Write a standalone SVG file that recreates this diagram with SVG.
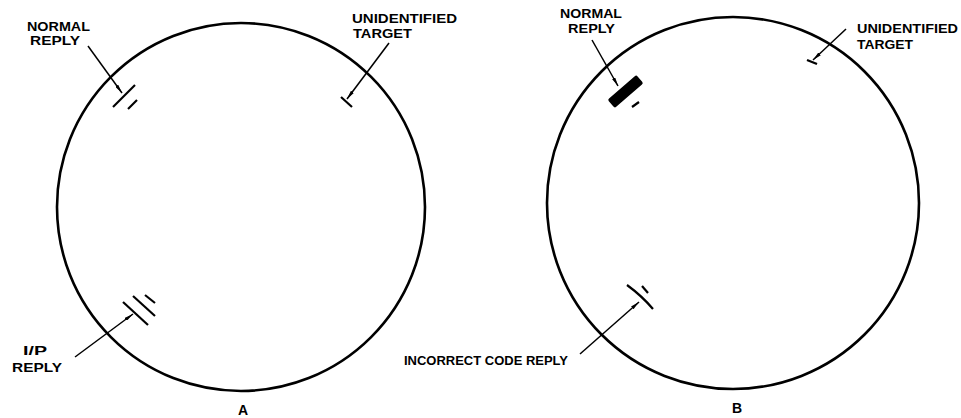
<svg xmlns="http://www.w3.org/2000/svg" width="961" height="418" viewBox="0 0 961 418">
<style>
.scope{fill:none;stroke:#000;stroke-width:2.6}
.lead{fill:none;stroke:#000;stroke-width:1.5}
.mark{fill:none;stroke:#000;stroke-width:2.2;stroke-linecap:butt}
.lbl{font-family:"Liberation Sans",Arial,sans-serif;font-weight:bold;font-size:12.5px;fill:#000}
.cap{font-family:"Liberation Sans",Arial,sans-serif;font-weight:bold;font-size:14px;fill:#000}
</style>
<defs>
<marker id="ah" viewBox="0 0 10 4" refX="10" refY="2" markerWidth="6" markerHeight="2.6" orient="auto" markerUnits="strokeWidth">
<path d="M0,0 L10,2 L0,4 Z" fill="#000"/>
</marker>
</defs>
<rect width="961" height="418" fill="#fff"/>
<g id="scopeA">
<circle class="scope" cx="241" cy="207" r="184"/>
<text class="cap" x="243" y="415" text-anchor="middle">A</text>
</g>
<g id="scopeB">
<circle class="scope" cx="733" cy="203" r="186"/>
<text class="cap" x="737" y="413" text-anchor="middle">B</text>
</g>
<g id="a-normal-reply">
<line class="mark" x1="113" y1="107" x2="135" y2="85"/>
<line class="mark" x1="128" y1="109" x2="137" y2="100"/>
<text class="lbl" x="27" y="30.5" textLength="63" lengthAdjust="spacingAndGlyphs">NORMAL</text>
<text class="lbl" x="30" y="45" textLength="50" lengthAdjust="spacingAndGlyphs">REPLY</text>
</g>
<g id="a-unidentified-target">
<line class="mark" x1="341" y1="97" x2="352" y2="107"/>
<text class="lbl" x="352" y="23" textLength="105" lengthAdjust="spacingAndGlyphs">UNIDENTIFIED</text>
<text class="lbl" x="353" y="38" textLength="59" lengthAdjust="spacingAndGlyphs">TARGET</text>
</g>
<g id="a-ip-reply">
<line class="mark" x1="123" y1="302" x2="148" y2="325"/>
<line class="mark" x1="133" y1="296" x2="155" y2="316"/>
<line class="mark" x1="145" y1="295" x2="155" y2="303"/>
<text class="lbl" x="23" y="355" textLength="24" lengthAdjust="spacingAndGlyphs">I/P</text>
<text class="lbl" x="12" y="372" textLength="50" lengthAdjust="spacingAndGlyphs">REPLY</text>
</g>
<g id="b-normal-reply">
<rect x="-19" y="-5.5" width="38" height="11" rx="2" fill="#000" transform="translate(625.5 91.5) rotate(-40.8)"/>
<line class="mark" x1="632" y1="107" x2="639" y2="102"/>
<text class="lbl" x="560" y="18" textLength="62" lengthAdjust="spacingAndGlyphs">NORMAL</text>
<text class="lbl" x="568" y="33" textLength="47" lengthAdjust="spacingAndGlyphs">REPLY</text>
</g>
<g id="b-unidentified-target">
<line class="mark" x1="807" y1="60" x2="817" y2="64"/>
<text class="lbl" x="857" y="33" textLength="101" lengthAdjust="spacingAndGlyphs">UNIDENTIFIED</text>
<text class="lbl" x="857" y="49" textLength="56" lengthAdjust="spacingAndGlyphs">TARGET</text>
</g>
<g id="b-incorrect-code-reply">
<path class="mark" d="M627,285 Q642,296 653,309"/>
<line class="mark" x1="642" y1="286" x2="648" y2="293"/>
<text class="lbl" x="404" y="365" textLength="164" lengthAdjust="spacingAndGlyphs">INCORRECT CODE REPLY</text>
</g>
<g id="connectors">
<line class="lead" x1="88" y1="46" x2="122" y2="93" marker-end="url(#ah)"/>
<line class="lead" x1="389" y1="43" x2="347" y2="99" marker-end="url(#ah)"/>
<line class="lead" x1="75" y1="357" x2="133" y2="314" marker-end="url(#ah)"/>
<line class="lead" x1="592" y1="40" x2="618" y2="86" marker-end="url(#ah)"/>
<line class="lead" x1="846" y1="29" x2="813" y2="60" marker-end="url(#ah)"/>
<line class="lead" x1="580" y1="354" x2="639" y2="302" marker-end="url(#ah)"/>
</g>
</svg>
